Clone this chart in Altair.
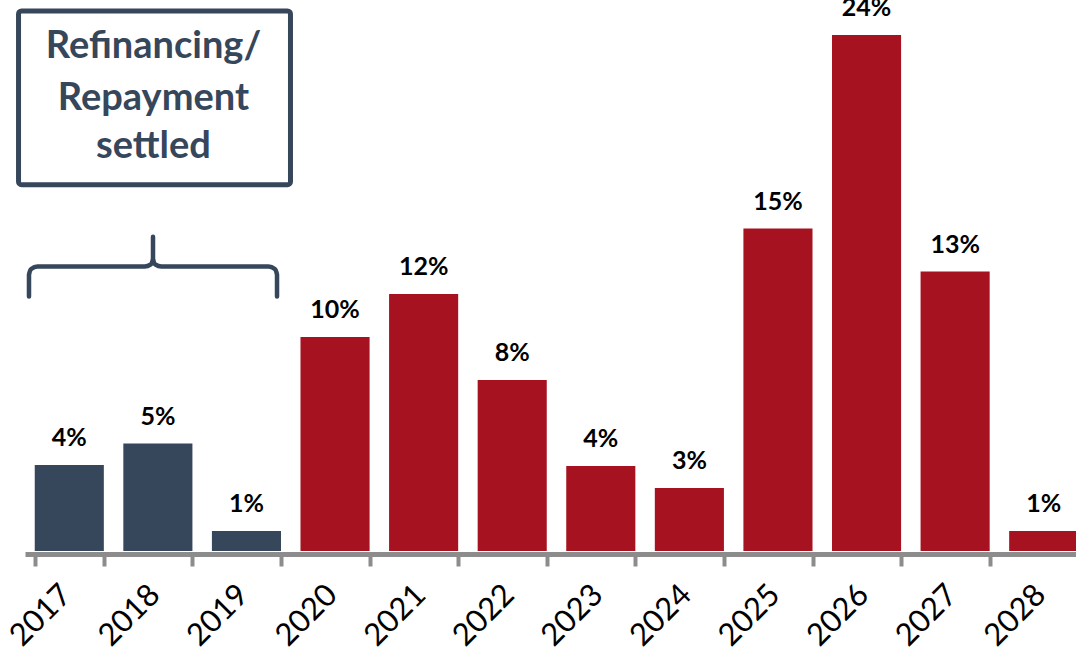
import altair as alt
import pandas as pd

# ---- data ----
years = ["2017", "2018", "2019", "2020", "2021", "2022", "2023", "2024", "2025", "2026", "2027", "2028"]
shares = [4.0, 5.0, 0.93, 9.95, 11.95, 7.95, 3.95, 2.93, 15.0, 24.0, 13.0, 0.93]
share_labels = ["4%", "5%", "1%", "10%", "12%", "8%", "4%", "3%", "15%", "24%", "13%", "1%"]
status = ["settled"] * 3 + ["open"] * 9

# annotation (box + brace) in band-index units (x) and percent units (y)
box_x = [-0.073]
box_x2 = [2.997]
box_y = [25.12]
box_y2 = [17.04]
box_lines = ["Refinancing/", "Repayment", "settled"]
box_line_x = [1.45, 1.45, 1.45]
box_line_y = [22.93, 20.53, 18.28]
brace_x = [0.045, 0.045, 0.07, 0.14, 1.35, 1.42, 1.445, 1.445, 1.445, 1.47, 1.54, 2.75, 2.82, 2.845, 2.845]
brace_y = [11.84, 12.85, 13.12, 13.23, 13.23, 13.33, 13.6, 14.62, 13.6, 13.33, 13.23, 13.23, 13.12, 12.85, 11.84]

NAVY = "#36465B"
RED = "#A6121F"
GREY = "#8C8C8C"
YMAX = 25.63

df = pd.DataFrame({"year": years, "share": shares, "label": share_labels, "status": status})
box_df = pd.DataFrame({"x": box_x, "x2": box_x2, "y": box_y, "y2": box_y2})
text_df = pd.DataFrame({"x": box_line_x, "y": box_line_y, "t": box_lines})
brace_df = pd.DataFrame({"x": brace_x, "y": brace_y, "i": list(range(len(brace_x)))})

yscale = alt.Scale(domain=[0, YMAX], nice=False, zero=True)
xband = alt.Scale(range=[0, 1063], paddingInner=0.22, paddingOuter=0.11)
xq = alt.Scale(domain=[0, 12], range=[0, 1063], nice=False, zero=False)

x_axis = alt.Axis(
    title=None,
    labelAngle=-45,
    labelAlign="right",
    labelBaseline="middle",
    labelFont="Lato",
    labelFontSize=31,
    labelColor="black",
    labelPadding=24,
    labelOffset=-3,
    domainColor=GREY,
    domainWidth=5,
    tickColor=GREY,
    tickWidth=4,
    tickSize=12,
    tickBand="extent",
    offset=3,
    grid=False,
)

bars = alt.Chart(df).mark_bar().encode(
    x=alt.X("year:N", sort=years, scale=xband, axis=x_axis),
    y=alt.Y("share:Q", scale=yscale, axis=None),
    color=alt.Color("status:N", scale=alt.Scale(domain=["settled", "open"], range=[NAVY, RED]), legend=None),
)

values = alt.Chart(df).mark_text(
    font="Lato", fontWeight="bold", fontSize=25, color="black", baseline="alphabetic", dy=-19
).encode(
    x=alt.X("year:N", sort=years, scale=xband, axis=None),
    y=alt.Y("share:Q", scale=yscale, axis=None),
    text="label:N",
)

box = alt.Chart(box_df).mark_rect(
    fill="white", stroke=NAVY, strokeWidth=5, cornerRadius=3
).encode(
    x=alt.X("x:Q", scale=xq, axis=None),
    x2="x2:Q",
    y=alt.Y("y:Q", scale=yscale, axis=None),
    y2="y2:Q",
)

box_text = alt.Chart(text_df).mark_text(
    font="Lato", fontWeight="bold", fontSize=38, color=NAVY, baseline="alphabetic", align="center"
).encode(
    x=alt.X("x:Q", scale=xq, axis=None),
    y=alt.Y("y:Q", scale=yscale, axis=None),
    text="t:N",
)

brace = alt.Chart(brace_df).mark_line(
    color=NAVY, strokeWidth=4.5, strokeCap="round", strokeJoin="round", interpolate="monotone"
).encode(
    x=alt.X("x:Q", scale=xq, axis=None),
    y=alt.Y("y:Q", scale=yscale, axis=None),
    order="i:Q",
)

chart = alt.layer(bars, values, box, box_text, brace).resolve_scale(x="independent").properties(
    width=1051,
    height=551,
    autosize=alt.AutoSizeParams(type="none"),
    padding={"left": 25, "top": 0, "right": 0, "bottom": 104},
).configure_view(stroke=None)

chart.save("out.html", embed_options={"renderer": "svg", "actions": False})
